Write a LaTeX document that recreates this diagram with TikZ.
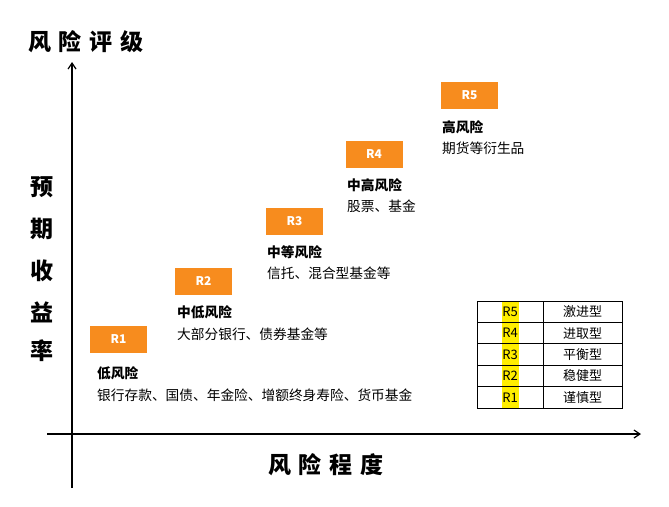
\documentclass[tikz,border=0pt]{standalone}
\usepackage{fontspec}
\usetikzlibrary{arrows.meta}
\setmainfont{Noto Sans CJK SC}
\definecolor{rorange}{RGB}{247,140,30}
\definecolor{hl}{RGB}{255,238,0}
\tikzset{
  axis/.style={line width=1.6pt,-{Straight Barb[length=6pt,width=8pt,line width=1.2pt]}},
  rbox/.style={fill=rorange,text=white,minimum width=57pt,minimum height=27pt,inner sep=0pt,font=\bfseries\fontsize{12}{14}\selectfont},
  rtitle/.style={anchor=west,inner sep=0pt,font=\bfseries\fontsize{13.7}{16}\selectfont},
  rdesc/.style={anchor=west,inner sep=0pt,font=\fontsize{13.7}{16}\selectfont},
  bigtxt/.style={inner sep=0pt,font=\bfseries\fontsize{23}{26}\selectfont},
  cell/.style={draw,line width=0.8pt,inner sep=0pt,minimum height=21.4pt,font=\fontsize{13}{15}\selectfont},
}
\begin{document}
\begin{tikzpicture}[x=1pt,y=-1pt]
\useasboundingbox (0,0) rectangle (669,506);
% axes
\coordinate (yb) at (72,488); \coordinate (yt) at (72,62);
\coordinate (xl) at (47,434); \coordinate (xr) at (641,434);
\draw[axis] (yb) -- (yt);
\draw[axis] (xl) -- (xr);
% axis labels
\node[bigtxt,anchor=west] (ytitle) at (28,42) {风\,\,险\,\,评\,\,级};
\node[bigtxt] (v1) at (42,187) {预};
\node[bigtxt] (v2) at (42,229) {期};
\node[bigtxt] (v3) at (42,271) {收};
\node[bigtxt] (v4) at (42,312) {益};
\node[bigtxt] (v5) at (42,351) {率};
\node[bigtxt,anchor=west] (xtitle) at (268,465) {风\,\,险\,\,程\,\,度};
% risk levels
\node[rbox] (r1) at (118.5,339.5) {R1};
\node[rbox] (r2) at (203.5,281.5) {R2};
\node[rbox] (r3) at (294.5,221.5) {R3};
\node[rbox] (r4) at (374,154.5) {R4};
\node[rbox] (r5) at (469.5,95.5) {R5};
\node[rtitle] (t1) at (97,373) {低风险};
\node[rdesc] (d1) at (97,395) {银行存款、国债、年金险、增额终身寿险、货币基金};
\node[rtitle] (t2) at (177,312) {中低风险};
\node[rdesc] (d2) at (177,334) {大部分银行、债券基金等};
\node[rtitle] (t3) at (267,252) {中等风险};
\node[rdesc] (d3) at (267,273) {信托、混合型基金等};
\node[rtitle] (t4) at (347,185) {中高风险};
\node[rdesc] (d4) at (347,206) {股票、基金};
\node[rtitle] (t5) at (442,127) {高风险};
\node[rdesc] (d5) at (442,148) {期货等衍生品};
% table
\fill[hl] (502,301) rectangle (519,408);
\foreach \i/\r/\t in {0/R5/激进型,1/R4/进取型,2/R3/平衡型,3/R2/稳健型,4/R1/谨慎型}{
  \node[cell,minimum width=66pt] (a\i) at (510,{311.7+21.4*\i}) {\r};
  \node[cell,minimum width=79pt] (b\i) at (582.5,{311.7+21.4*\i}) {\t};
}
\end{tikzpicture}
\end{document}
